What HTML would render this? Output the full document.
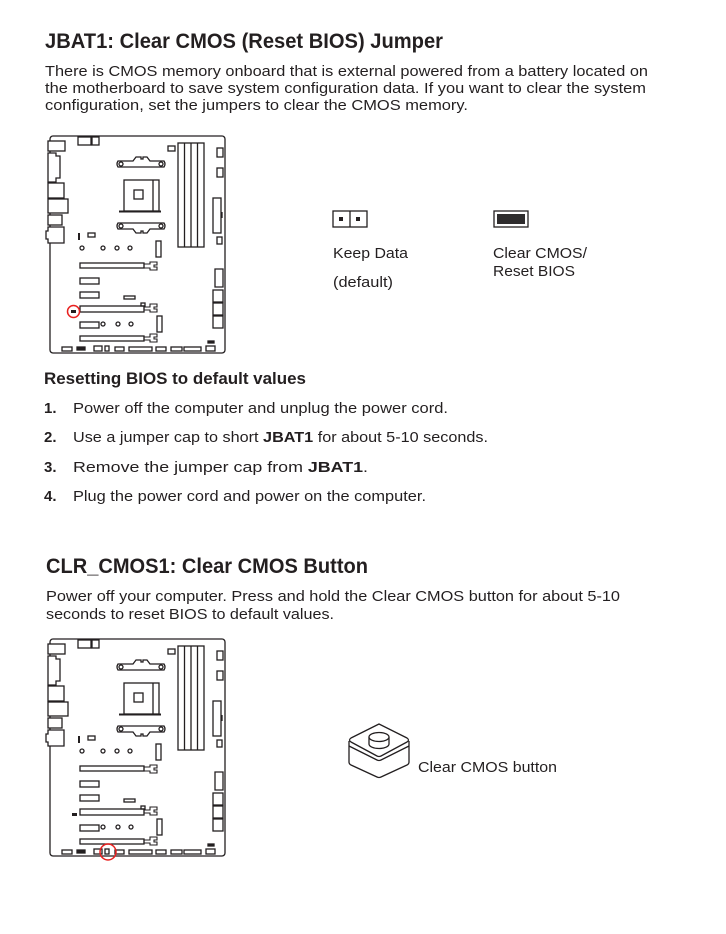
<!DOCTYPE html>
<html><head><meta charset="utf-8"><style>
html,body{margin:0;padding:0;background:#fff;}
svg{display:block;}
text{font-family:"Liberation Sans",sans-serif;fill:#231f20;}
</style></head><body>
<svg width="726" height="934" viewBox="0 0 726 934" xmlns="http://www.w3.org/2000/svg">
<defs>
<g id="board" fill="none" stroke="#231f20" stroke-width="1.3">
  <rect x="50" y="136" width="175" height="217" rx="3"/>
  <rect x="48" y="141" width="17" height="10" fill="#fff"/>
  <path d="M48,153 h8 v3 h4 v22 h-4 v4 h-8 z" fill="#fff"/>
  <rect x="48" y="183" width="16" height="15" fill="#fff"/>
  <rect x="48" y="199" width="20" height="14" fill="#fff"/>
  <rect x="48" y="215" width="14" height="10" fill="#fff"/>
  <path d="M48,227 h16 v16 h-16 v-4 h-2 v-8 h2 z" fill="#fff"/>
  <rect x="78" y="137" width="13" height="8"/>
  <rect x="92" y="137" width="7" height="8"/>
  <rect x="168" y="146" width="7" height="5"/>
  <rect x="178" y="143" width="26" height="104"/>
  <line x1="184.5" y1="143" x2="184.5" y2="247"/>
  <line x1="191" y1="143" x2="191" y2="247"/>
  <line x1="197.5" y1="143" x2="197.5" y2="247"/>
  <rect x="217" y="148" width="6" height="9"/>
  <rect x="217" y="168" width="6" height="9"/>
  <rect x="213" y="198" width="8" height="35"/>
  <line x1="222" y1="212" x2="222" y2="218"/>
  <rect x="217" y="237" width="5" height="7"/>
  <path d="M118,161 L133,161 L136,157 L141,157 L141,159 L143,159 L143,157 L147,157 L150,161 L164,161 Q166,164 164,167 L118,167 Q116,164 118,161 Z"/>
  <circle cx="121" cy="164" r="2"/><circle cx="161" cy="164" r="2"/>
  <path d="M118,223 L164,223 Q166,226 164,229 L150,229 L147,233 L143,233 L143,231 L141,231 L141,233 L136,233 L133,229 L118,229 Q116,226 118,223 Z"/>
  <circle cx="121" cy="226" r="2"/><circle cx="161" cy="226" r="2"/>
  <rect x="124" y="180" width="35" height="31"/>
  <line x1="153" y1="180" x2="153" y2="211"/>
  <line x1="119" y1="211.5" x2="161" y2="211.5" stroke-width="2"/>
  <rect x="134" y="190" width="9" height="9"/>
  <line x1="79" y1="233" x2="79" y2="240" stroke-width="2"/>
  <rect x="88" y="233" width="7" height="4"/>
  <circle cx="82" cy="248" r="2"/><circle cx="103" cy="248" r="2"/><circle cx="117" cy="248" r="2"/><circle cx="130" cy="248" r="2"/>
  <rect x="156" y="241" width="5" height="16"/>
  <rect x="80" y="263" width="64" height="5"/>
  <path d="M144,264 h6 v-2 h7 v3 h-3 v2 h3 v3 h-7 v-2 h-6 z" stroke-width="1.1"/>
  <rect x="80" y="278" width="19" height="6"/>
  <rect x="80" y="292" width="19" height="6"/>
  <rect x="124" y="296" width="11" height="3"/>
  <rect x="80" y="306" width="64" height="6"/>
  <rect x="141" y="303" width="4" height="3"/>
  <path d="M144,307 h6 v-3 h7 v3 h-3 v2 h3 v3 h-7 v-2 h-6 z" stroke-width="1.1"/>
  <rect x="80" y="322" width="19" height="6"/>
  <circle cx="103" cy="324" r="2"/><circle cx="118" cy="324" r="2"/><circle cx="131" cy="324" r="2"/>
  <rect x="157" y="316" width="5" height="16"/>
  <rect x="80" y="336" width="64" height="5"/>
  <path d="M144,337 h6 v-3 h7 v3 h-3 v2 h3 v3 h-7 v-2 h-6 z" stroke-width="1.1"/>
  <path d="M215,269 h8 v18 h-8 z"/>
  <rect x="213" y="290" width="10" height="12"/>
  <rect x="213" y="303" width="10" height="12"/>
  <rect x="213" y="316" width="10" height="12"/>
  <rect x="62" y="347" width="10" height="4"/>
  <rect x="77" y="347" width="8" height="3" fill="#231f20"/>
  <rect x="94" y="346" width="8" height="5"/>
  <rect x="105" y="346" width="4" height="5"/>
  <rect x="115" y="347" width="9" height="4"/>
  <rect x="129" y="347" width="23" height="4"/>
  <rect x="156" y="347" width="10" height="4"/>
  <rect x="171" y="347" width="11" height="4"/>
  <rect x="184" y="347" width="17" height="4"/>
  <rect x="206" y="346" width="9" height="5"/>
  <rect x="208" y="341" width="6" height="2" fill="#231f20"/>
</g>
</defs>

<text x="45" y="48" font-size="21" font-weight="bold" textLength="398" lengthAdjust="spacingAndGlyphs">JBAT1: Clear CMOS (Reset BIOS) Jumper</text>
<text x="45" y="76" font-size="15" textLength="603" lengthAdjust="spacingAndGlyphs">There is CMOS memory onboard that is external powered from a battery located on</text>
<text x="45" y="93" font-size="15" textLength="601" lengthAdjust="spacingAndGlyphs">the motherboard to save system configuration data. If you want to clear the system</text>
<text x="45" y="110" font-size="15" textLength="423" lengthAdjust="spacingAndGlyphs">configuration, set the jumpers to clear the CMOS memory.</text>

<use href="#board"/>
<rect x="71" y="310" width="5" height="3" fill="#231f20"/>
<circle cx="73.5" cy="311.5" r="6" fill="none" stroke="#e8201f" stroke-width="1.5"/>

<g stroke="#231f20" stroke-width="1.3" fill="none">
  <rect x="333" y="211" width="34" height="16"/>
  <line x1="350" y1="211" x2="350" y2="227"/>
</g>
<rect x="339" y="217" width="4" height="4" fill="#231f20"/>
<rect x="356" y="217" width="4" height="4" fill="#231f20"/>
<rect x="494" y="211" width="34" height="16" fill="none" stroke="#231f20" stroke-width="1.3"/>
<rect x="497" y="214" width="28" height="10" fill="#2e2c2d"/>

<text x="333" y="258" font-size="15" textLength="75" lengthAdjust="spacingAndGlyphs">Keep Data</text>
<text x="333" y="287" font-size="15" textLength="60" lengthAdjust="spacingAndGlyphs">(default)</text>
<text x="493" y="258" font-size="15" textLength="94" lengthAdjust="spacingAndGlyphs">Clear CMOS/</text>
<text x="493" y="276" font-size="15" textLength="82" lengthAdjust="spacingAndGlyphs">Reset BIOS</text>

<text x="44" y="384" font-size="16.5" font-weight="bold" textLength="262" lengthAdjust="spacingAndGlyphs">Resetting BIOS to default values</text>
<g font-size="15">
<text x="44" y="413" font-weight="bold">1.</text>
<text x="73" y="413" textLength="375" lengthAdjust="spacingAndGlyphs">Power off the computer and unplug the power cord.</text>
<text x="44" y="442" font-weight="bold">2.</text>
<text x="73" y="442" textLength="415" lengthAdjust="spacingAndGlyphs">Use a jumper cap to short <tspan font-weight="bold">JBAT1</tspan> for about 5-10 seconds.</text>
<text x="44" y="472" font-weight="bold">3.</text>
<text x="73" y="472" textLength="295" lengthAdjust="spacingAndGlyphs">Remove the jumper cap from <tspan font-weight="bold">JBAT1</tspan>.</text>
<text x="44" y="501" font-weight="bold">4.</text>
<text x="73" y="501" textLength="353" lengthAdjust="spacingAndGlyphs">Plug the power cord and power on the computer.</text>
</g>

<text x="46" y="573" font-size="21" font-weight="bold" textLength="322" lengthAdjust="spacingAndGlyphs">CLR_CMOS1: Clear CMOS Button</text>
<text x="46" y="601" font-size="15" textLength="574" lengthAdjust="spacingAndGlyphs">Power off your computer. Press and hold the Clear CMOS button for about 5-10</text>
<text x="46" y="619" font-size="15" textLength="288" lengthAdjust="spacingAndGlyphs">seconds to reset BIOS to default values.</text>

<use href="#board" transform="translate(0,503)"/>
<rect x="72" y="813" width="5" height="3" fill="#231f20"/>
<circle cx="108" cy="852" r="8" fill="none" stroke="#e8201f" stroke-width="1.5"/>

<g fill="none" stroke="#231f20" stroke-width="1.3" stroke-linejoin="round">
  <path d="M379,724 L407,738 Q410,740 407,742 L381,756 Q379,757 377,756 L351,742 Q348,740 351,738 Z" fill="#fff"/>
  <path d="M349,741 L349,762 Q349,764 351,765 L377,777 Q379,778 381,777 L407,765 Q409,764 409,762 L409,741"/>
  <path d="M349,746 L377,760 Q379,761 381,760 L409,746"/>
  <path d="M369,737 L369,744 A10,4.5 0 0 0 389,744 L389,737"/>
  <ellipse cx="379" cy="737" rx="10" ry="4.5" fill="#fff"/>
</g>
<text x="418" y="772" font-size="15" textLength="139" lengthAdjust="spacingAndGlyphs">Clear CMOS button</text>
</svg>
</body></html>
